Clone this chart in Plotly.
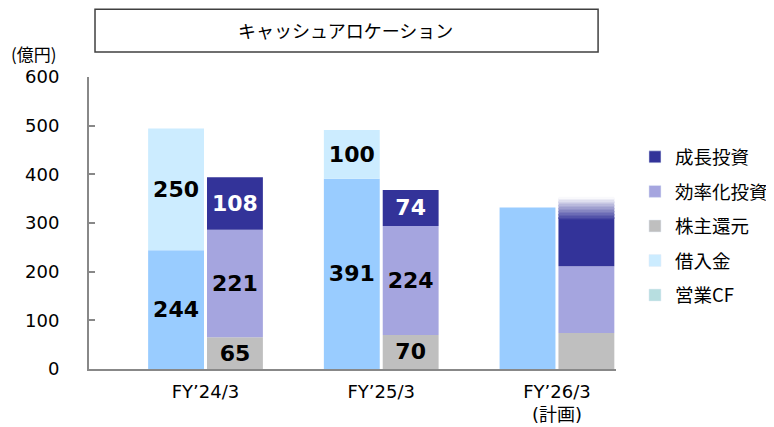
import plotly.graph_objects as go

# ---- data (億円) ----
categories = ["FY’24/3", "FY’25/3", "FY’26/3<br>(計画)"]
operating_cf = [244, 391, 332]        # 営業CF
borrowing = [250, 100, 0]             # 借入金
shareholder_return = [65, 70, 74]     # 株主還元
efficiency_inv = [221, 224, 137]      # 効率化投資
growth_inv = [108, 74, 143]           # 成長投資
labelled = [True, True, False]        # plan year has no value labels

# ---- styles ----
C_CF = "#99CCFF"
C_CF_LEG = "#B7DEE0"
C_BORROW = "#CCECFF"
C_SHARE = "#BFBFBF"
C_EFF = "#A5A5DF"
C_GROW = "#333399"
NUM_FONT = "DejaVu Sans"
JP_FONT = "Noto Sans CJK JP"

W = 0.318
G = 0.017
OFF_L = -W - G / 2
OFF_R = G / 2

def lab(vals):
    return [str(v) if (ok and v) else "" for v, ok in zip(vals, labelled)]

fig = go.Figure()

def add_bar(x, y, base, color, offset, text=None, tcolor="black"):
    fig.add_trace(go.Bar(
        x=x, y=y, base=base, width=W, offset=offset,
        marker=dict(color=color, line=dict(width=0)),
        text=text, textposition="inside", insidetextanchor="middle",
        textangle=0, constraintext="none",
        textfont=dict(family=NUM_FONT, size=22, color=tcolor, weight="bold"),
        showlegend=False, hoverinfo="skip",
    ))

# left bars: 営業CF + 借入金
add_bar(categories, operating_cf, [0] * 3, C_CF, OFF_L, lab(operating_cf))
add_bar(categories, borrowing, operating_cf, C_BORROW, OFF_L, lab(borrowing))

# right bars: 株主還元, 効率化投資, 成長投資
add_bar(categories, shareholder_return, [0] * 3, C_SHARE, OFF_R, lab(shareholder_return))
base_eff = shareholder_return
add_bar(categories, efficiency_inv, base_eff, C_EFF, OFF_R, lab(efficiency_inv))
base_grow = [a + b for a, b in zip(shareholder_return, efficiency_inv)]

# growth: actual years solid; plan year solid lower part + fading top
solid_frac = 2 / 3
grow_solid = [v if ok else v * solid_frac for v, ok in zip(growth_inv, labelled)]
add_bar(categories, grow_solid, base_grow, C_GROW, OFF_R, lab(growth_inv), tcolor="white")

def mix(c, t):
    r, g, b = int(c[1:3], 16), int(c[3:5], 16), int(c[5:7], 16)
    r = round(r + (255 - r) * t); g = round(g + (255 - g) * t); b = round(b + (255 - b) * t)
    return f"rgb({r},{g},{b})"

N = 16
for i, ok in enumerate(labelled):
    if ok:
        continue
    fade_total = growth_inv[i] - grow_solid[i]
    step = fade_total / N
    start = base_grow[i] + grow_solid[i]
    for k in range(N):
        add_bar([categories[i]], [step * 1.02], [start + k * step],
                mix(C_GROW, (k + 0.5) / N), OFF_R)

# legend entries
legend_items = [("成長投資", C_GROW), ("効率化投資", C_EFF), ("株主還元", C_SHARE),
                ("借入金", C_BORROW), ("営業CF", C_CF_LEG)]
for name, col in legend_items:
    fig.add_trace(go.Bar(x=[None], y=[None], name=name, marker_color=col,
                         legendgroup=name, showlegend=True, hoverinfo="skip"))

fig.update_layout(
    width=774, height=427,
    margin=dict(l=81, r=166, t=69, b=66, autoexpand=False),
    paper_bgcolor="white", plot_bgcolor="white",
    barmode="overlay",
    font=dict(family=NUM_FONT + ", " + JP_FONT, size=18, color="black"),
    legend=dict(x=1.036, y=0.79, xanchor="left", yanchor="top",
                font=dict(family=JP_FONT, size=18.5), traceorder="grouped",
                tracegroupgap=7.5, itemclick=False, bgcolor="rgba(0,0,0,0)"),
    xaxis=dict(type="category", range=[-0.663, 2.336], showline=True,
               linecolor="#888888", linewidth=2, ticks="", showgrid=False,
               automargin=False, ticklabelstandoff=5,
               tickfont=dict(family=NUM_FONT + ", " + JP_FONT, size=18)),
    yaxis=dict(range=[0, 600], dtick=100, showline=True, linecolor="#888888",
               linewidth=2, ticks="inside", ticklen=6, tickwidth=1.5,
               tickcolor="#888888", showgrid=False, zeroline=False,
               automargin=False,
               tickfont=dict(family=NUM_FONT, size=18), ticklabelstandoff=24),
    shapes=[dict(type="rect", xref="paper", yref="paper",
                 x0=0.0114, x1=0.966, y0=1.086, y1=1.232,
                 line=dict(color="#404040", width=1.5), fillcolor="white")],
    annotations=[
        dict(text="キャッシュアロケーション", xref="paper", yref="paper",
             x=0.486, y=1.161, showarrow=False,
             xanchor="center", yanchor="middle",
             font=dict(family=JP_FONT, size=18)),
        dict(text="(億円)", xref="paper", yref="paper", x=-0.105, y=1.08,
             xanchor="center", yanchor="middle", showarrow=False,
             font=dict(family=JP_FONT, size=17)),
    ],
)

fig.write_html("out.html")
